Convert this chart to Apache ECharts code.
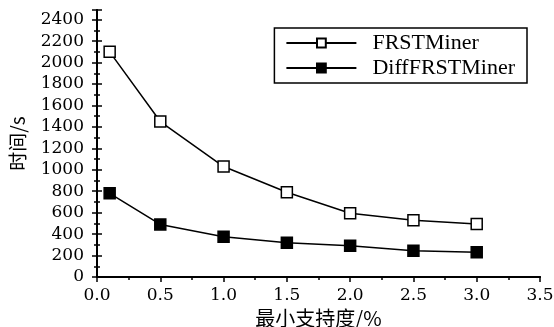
<!DOCTYPE html>
<html>
<head>
<meta charset="utf-8">
<script src="https://cdn.jsdelivr.net/npm/echarts@6/dist/echarts.min.js"></script>
<style>
html,body{margin:0;padding:0;background:#fff;}
#chart1{width:554px;height:327px;}
</style>
</head>
<body>
<div id="chart1"></div>
<script>
// 最小支持度 (%)
var supports = [0.1, 0.5, 1.0, 1.5, 2.0, 2.5, 3.0];
// 时间/s
var frstMiner = [2100, 1450, 1030, 790, 595, 530, 495];
var diffFrstMiner = [780, 490, 375, 320, 292, 245, 230];
var seriesNames = ['FRSTMiner', 'DiffFRSTMiner'];

var myChart = echarts.init(document.getElementById("chart1"));
var font = 'DejaVu Serif';
var legendFont = 'Liberation Serif';
var cjk = 'Noto Sans CJK SC';

function pairs(xs, ys) {
	var d = [];
	for (var i = 0; i < xs.length; i++) {
		d.push([xs[i], ys[i]]);
	}
	return d;
}

var axisLine = {show: true, lineStyle: {color: '#000', width: 2}};
var outTick = {inside: false, length: 5, lineStyle: {color: '#000', width: 1.5}};
var outMinor = {show: true, splitNumber: 2, length: 3, lineStyle: {color: '#000', width: 1.5}};

var option = {
	animation: false,
	backgroundColor: '#fff',
	grid: {left: 97, right: 14, top: 10, bottom: 50, containLabel: false, outerBoundsMode: 'none'},
	legend: {
		orient: 'vertical',
		right: 27,
		top: 28,
		padding: [4, 12, 4, 11],
		itemGap: 3,
		itemWidth: 70,
		itemHeight: 11,
		borderColor: '#000',
		borderWidth: 1.5,
		textStyle: {fontFamily: legendFont, fontSize: 22, color: '#000', padding: [0, 0, 0, 11]},
		data: seriesNames
	},
	xAxis: [{
		type: 'value',
		min: 0,
		max: 3.5,
		interval: 0.5,
		name: '最小支持度/%',
		nameLocation: 'middle',
		nameGap: 27,
		nameTextStyle: {fontFamily: cjk, fontSize: 20, color: '#000'},
		axisLine: axisLine,
		axisTick: outTick,
		minorTick: outMinor,
		splitLine: {show: false},
		minorSplitLine: {show: false},
		axisLabel: {
			fontFamily: font, fontSize: 17, color: '#000', margin: 10,
			formatter: function (v) { return v.toFixed(1); }
		}
	}, {
		type: 'value',
		position: 'top',
		min: 0,
		max: 3.5,
		interval: 0.25,
		axisLine: axisLine,
		axisTick: {inside: true, length: 3, lineStyle: {color: '#000', width: 1.5}},
		splitLine: {show: false},
		axisLabel: {show: false}
	}],
	yAxis: [{
		type: 'value',
		min: 0,
		max: 2490,
		interval: 200,
		name: '时间/s',
		nameLocation: 'middle',
		nameGap: 70,
		nameTextStyle: {fontFamily: cjk, fontSize: 19, color: '#000'},
		axisLine: axisLine,
		axisTick: outTick,
		minorTick: outMinor,
		splitLine: {show: false},
		axisLabel: {
			fontFamily: font, fontSize: 17, color: '#000', margin: 13, showMaxLabel: false,
			formatter: function (v) { return String(v); }
		}
	}, {
		type: 'value',
		position: 'right',
		min: 0,
		max: 2490,
		interval: 200,
		axisLine: axisLine,
		axisTick: outTick,
		minorTick: outMinor,
		splitLine: {show: false},
		axisLabel: {show: false}
	}],
	series: [{
		name: seriesNames[0],
		type: 'line',
		data: pairs(supports, frstMiner),
		symbol: 'rect',
		symbolSize: 11,
		lineStyle: {color: '#000', width: 1.5},
		itemStyle: {color: '#fff', borderColor: '#000', borderWidth: 1.5}
	}, {
		name: seriesNames[1],
		type: 'line',
		data: pairs(supports, diffFrstMiner),
		symbol: 'rect',
		symbolSize: 11,
		lineStyle: {color: '#000', width: 1.5},
		itemStyle: {color: '#000', borderColor: '#000', borderWidth: 1.5}
	}]
};
myChart.setOption(option);
</script>
</body>
</html>
